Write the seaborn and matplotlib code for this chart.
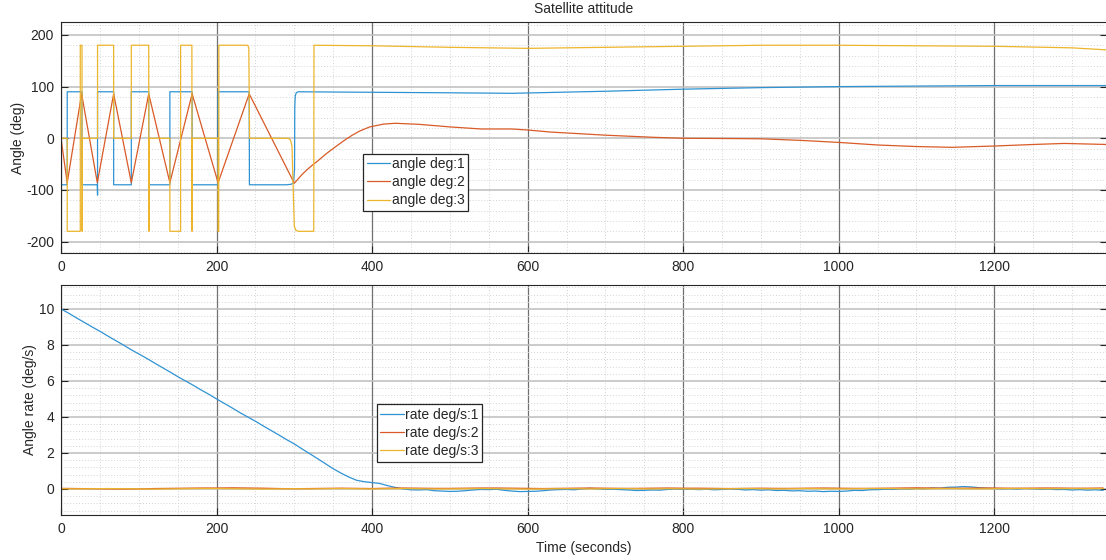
import numpy as np
import pandas as pd
import matplotlib
matplotlib.use("Agg")
import matplotlib.pyplot as plt
import seaborn as sns
from matplotlib.ticker import MultipleLocator

# ---------------- data ----------------
angle1_t = [0, 8, 8, 27, 27, 46.7, 47, 47, 67.7, 67.7, 90.4, 90.4, 112.8, 112.8, 140, 140,
            168.6, 168.6, 202, 202, 242, 242.3, 290, 296, 299, 300.3, 300.6, 301.2, 302.5, 305,
            350, 400, 500, 580, 700, 800, 900, 1000, 1100, 1200, 1345]
angle1_v = [-90, -90, 90, 90, -90, -90, -110, 90, 90, -90, -90, 90, 90, -90, -90, 90,
            90, -90, -90, 90, 90, -90, -90, -89, -86, -60, 60, 82, 88, 90,
            89.5, 89, 88, 87, 91, 95, 98, 100, 101, 102, 102]

angle2_t = [0, 8, 26.5, 46.7, 67.7, 90.4, 112.8, 140, 168.6, 202, 242, 300,
            310, 317, 324, 330, 341, 352, 363, 374, 384, 397, 415, 430, 460, 500, 540, 580,
            600, 630, 700, 760, 800, 860, 900, 950, 1000, 1050, 1100, 1146, 1200, 1250, 1290, 1345]
angle2_v = [0, -86, 86, -86, 86, -86, 86, -86, 86, -86, 86, -87,
            -70, -60, -51, -44, -30, -17.5, -5.5, 5.5, 14, 22, 27.5, 29, 27, 22, 18, 18,
            16, 12, 6, 2, 0, -0.5, -1, -4, -8, -13, -16, -17.5, -15, -12, -10, -12]

angle3_t = [0, 8, 8, 24.8, 24.8, 27, 27.2, 27.5, 47, 47, 67.7, 67.7, 90.4, 90.4, 112.8, 113,
            113.3, 140, 140, 153.8, 153.8, 168.3, 168.5, 168.8, 202, 202, 202.8, 203, 240, 241.5,
            242.5, 292, 295, 297, 299, 300, 302, 305, 325, 325.3, 400, 500, 600, 700, 800, 900,
            1000, 1100, 1200, 1300, 1345]
angle3_v = [0, 0, -180, -180, 180, 180, -180, 0, 0, 180, 180, 0, 0, 180, 180, -180,
            0, 0, -180, -180, 180, 180, -180, 0, 0, -180, -180, 180, 180, 175,
            0, 0, -3, -15, -120, -170, -178, -180, -180, 180, 179, 176, 174, 176, 178, 180,
            180, 179, 178, 175, 171]

rate1_t = list(range(0, 1341, 10))
rate1_v = [10.0, 9.76, 9.5, 9.25, 9.0, 8.76, 8.5, 8.25, 8.0, 7.74, 7.5, 7.26, 7.0, 6.75, 6.5,
           6.24, 6.0, 5.76, 5.5, 5.26, 5.0, 4.75, 4.5, 4.24, 4.0, 3.76, 3.5, 3.25, 3.0, 2.74, 2.5,
           2.22, 1.95, 1.68, 1.4, 1.12, 0.88, 0.66, 0.48, 0.4, 0.35, 0.3, 0.18, 0.08, 0.0,
           -0.05, -0.06, -0.04, -0.1, -0.12, -0.14, -0.13, -0.1, -0.06, -0.03,
           -0.04, -0.02, -0.08, -0.12, -0.15, -0.14, -0.13, -0.1, -0.06, -0.04,
           -0.03, -0.05, 0.0, 0.03, 0.01, -0.03, -0.02, -0.04, -0.06, -0.09,
           -0.08, -0.06, -0.07, -0.03, -0.01, -0.03, -0.02, -0.04, -0.02, -0.05,
           -0.03, 0.0, -0.02, -0.06, -0.04, -0.07, -0.05, -0.09, -0.08, -0.11,
           -0.1, -0.13, -0.12, -0.15, -0.13, -0.14, -0.12, -0.08, -0.09, -0.05,
           -0.04, -0.02, -0.03, 0.0, -0.01, 0.02, 0.01, 0.05, 0.04, 0.09,
           0.1, 0.13, 0.11, 0.07, 0.04, 0.02, 0.0, 0.01, -0.01, 0.02,
           0.0, -0.02, -0.01, -0.04, -0.03, -0.06, -0.04, -0.07, -0.05, -0.08]

rate23_t = list(range(0, 1341, 20))
rate2_v = [0.03, 0.02, 0.01, 0.0, -0.01, 0.0, 0.02, 0.03, 0.04, 0.05, 0.05, 0.06, 0.05, 0.04,
           0.02, 0.01, 0.02, 0.03, 0.04, 0.03, 0.02, 0.04, 0.05, 0.04, 0.03, 0.03, 0.04, 0.05,
           0.05, 0.04, 0.03, 0.02, 0.03, 0.04, 0.05, 0.04, 0.03, 0.03, 0.04, 0.05, 0.04, 0.04,
           0.03, 0.02, 0.03, 0.04, 0.03, 0.03, 0.04, 0.05, 0.04, 0.03, 0.03, 0.04, 0.05, 0.06,
           0.05, 0.04, 0.04, 0.05, 0.05, 0.04, 0.04, 0.05, 0.05, 0.04, 0.04, 0.05]
rate3_v = [0.01, 0.0, 0.01, 0.02, 0.01, 0.0, -0.01, 0.0, 0.01, 0.02, 0.02, 0.01, 0.0, -0.01,
           0.0, 0.01, 0.0, 0.01, 0.02, 0.01, 0.0, 0.01, 0.02, 0.01, 0.0, 0.0, 0.01, 0.02,
           0.01, 0.0, -0.01, 0.0, 0.01, 0.01, 0.0, 0.01, 0.02, 0.01, 0.0, 0.01, 0.0, -0.01,
           0.0, 0.01, 0.02, 0.01, 0.0, 0.01, 0.02, 0.01, 0.0, 0.01, 0.02, 0.02, 0.01, 0.0,
           0.01, 0.02, 0.01, 0.0, 0.01, 0.02, 0.02, 0.01, 0.01, 0.02, 0.01, 0.02]

angle_labels = ["angle deg:1", "angle deg:2", "angle deg:3"]
rate_labels = ["rate deg/s:1", "rate deg/s:2", "rate deg/s:3"]
colors = ["#2f93d3", "#d95a26", "#edb52c"]

# ---------------- frames ----------------
df_angle = pd.concat([
    pd.DataFrame({"t": angle1_t, "v": angle1_v, "s": angle_labels[0]}),
    pd.DataFrame({"t": angle2_t, "v": angle2_v, "s": angle_labels[1]}),
    pd.DataFrame({"t": angle3_t, "v": angle3_v, "s": angle_labels[2]}),
], ignore_index=True)
df_rate = pd.concat([
    pd.DataFrame({"t": rate1_t, "v": rate1_v, "s": rate_labels[0]}),
    pd.DataFrame({"t": rate23_t, "v": rate2_v, "s": rate_labels[1]}),
    pd.DataFrame({"t": rate23_t, "v": rate3_v, "s": rate_labels[2]}),
], ignore_index=True)

# ---------------- style ----------------
sns.set_theme(style="white")
plt.rcParams["font.family"] = ["Liberation Sans", "DejaVu Sans"]
plt.rcParams["axes.unicode_minus"] = False
txt = "#262626"

W, H = 1106, 560
fig = plt.figure(figsize=(W / 100, H / 100), dpi=100)
ax1 = fig.add_axes([61 / W, 1 - 253 / H, 1046 / W, 231 / H])
ax2 = fig.add_axes([61 / W, 1 - 515 / H, 1046 / W, 230 / H])

sns.lineplot(data=df_angle, x="t", y="v", hue="s", palette=colors, estimator=None,
             sort=False, linewidth=0.9, ax=ax1)
sns.lineplot(data=df_rate, x="t", y="v", hue="s", palette=colors, estimator=None,
             sort=False, linewidth=0.9, ax=ax2)


def style(ax, ylim, ymaj, ymin):
    ax.set_xlim(0, 1345)
    ax.set_ylim(*ylim)
    ax.xaxis.set_major_locator(MultipleLocator(200))
    ax.xaxis.set_minor_locator(MultipleLocator(50))
    ax.yaxis.set_major_locator(MultipleLocator(ymaj))
    ax.yaxis.set_minor_locator(MultipleLocator(ymin))
    ax.set_axisbelow(True)
    ax.grid(which="major", axis="x", color="#707070", lw=0.9)
    ax.grid(which="major", axis="y", color="#bdbdbd", lw=1.1)
    ax.grid(which="minor", color="#d4d4d4", ls=(0, (1, 2)), lw=0.7)
    ax.tick_params(which="major", direction="in", length=5, width=0.8, colors=txt,
                   labelsize=10, right=True, left=True, bottom=True, pad=5)
    ax.tick_params(which="minor", length=0)
    for sp in ax.spines.values():
        sp.set_color(txt)
        sp.set_linewidth(0.8)
    ax.set_xlabel("")
    ax.set_ylabel("")


style(ax1, (-222, 225), 100, 20)
style(ax2, (-1.45, 11.33), 2, 0.4)

ax1.set_ylabel("Angle (deg)", fontsize=10, color=txt)
ax1.yaxis.set_label_coords(-0.034, 0.5)
ax2.set_ylabel("Angle rate (deg/s)", fontsize=10, color=txt)
ax2.yaxis.set_label_coords(-0.023, 0.5)
ax2.set_xlabel("Time (seconds)", fontsize=10, color=txt)
ax2.xaxis.set_label_coords(0.5, -0.115)
ax1.text(0.5, 1 + 13 / 231, "Satellite attitude", transform=ax1.transAxes,
         ha="center", va="center", fontsize=10, color=txt)

for ax, anchor in ((ax1, (0.289, 0.182)), (ax2, (0.302, 0.232))):
    h, l = ax.get_legend_handles_labels()
    leg = ax.legend(h, l, loc="lower left", bbox_to_anchor=anchor, borderaxespad=0,
                    frameon=True, fancybox=False, framealpha=1, edgecolor=txt,
                    fontsize=10, handlelength=1.7, handletextpad=0.1,
                    labelspacing=0.3, borderpad=0.25)
    leg.get_frame().set_linewidth(0.9)
    for t in leg.get_texts():
        t.set_color(txt)

fig.savefig("out.png", dpi=100)
